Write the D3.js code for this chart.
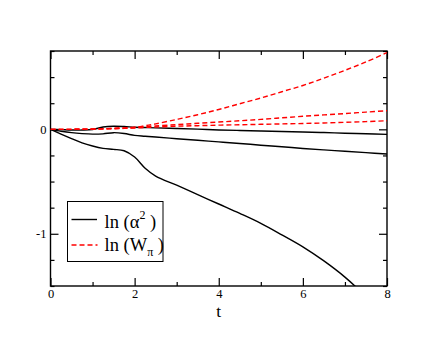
<!DOCTYPE html>
<html><head><meta charset="utf-8">
<script src="https://cdn.jsdelivr.net/npm/d3@7/dist/d3.min.js"></script>
<style>body{margin:0;background:#fff}</style>
</head><body>
<svg id="c" width="436" height="337"></svg>
<script>
// ---- data ----
const tValues = [0,0.25,0.5,0.75,1,1.25,1.5,1.75,2,2.25,2.5,3,3.5,4,4.5,5,5.5,6,6.5,7,7.5,8];
const lnAlpha1 = [0,-0.003,-0.006,-0.007,-0.002,0.022,0.030,0.027,0.020,0.017,0.014,0.008,0.002,-0.006,-0.011,-0.016,-0.021,-0.026,-0.031,-0.037,-0.042,-0.048];
const lnAlpha2 = [0,-0.018,-0.032,-0.041,-0.046,-0.043,-0.032,-0.040,-0.058,-0.066,-0.074,-0.090,-0.105,-0.120,-0.135,-0.152,-0.167,-0.183,-0.197,-0.210,-0.223,-0.236];
const lnAlpha3 = [0,-0.045,-0.088,-0.130,-0.160,-0.182,-0.192,-0.205,-0.265,-0.372,-0.447,-0.535,-0.625,-0.715,-0.805,-0.900,-1.010,-1.125,-1.260,-1.415,-1.600,-1.800];
const lnW1 = [0,0,0,0.001,0.003,0.006,0.010,0.014,0.020,0.035,0.052,0.095,0.140,0.190,0.245,0.300,0.360,0.420,0.490,0.565,0.645,0.735];
const lnW2 = [0,0,0,0.001,0.002,0.005,0.008,0.012,0.018,0.025,0.032,0.045,0.058,0.070,0.082,0.095,0.110,0.125,0.138,0.151,0.165,0.178];
const lnW3 = [0,0,0,0.001,0.002,0.004,0.006,0.009,0.013,0.018,0.022,0.030,0.035,0.040,0.044,0.048,0.052,0.056,0.061,0.067,0.074,0.082];
const xMajorTicks = [0,2,4,6,8];
const xMinorTicks = [1,3,5,7];
const yMajorTicks = [-1,0];
const yMinorTicks = [-1.5,-1.25,-0.75,-0.5,-0.25,0.25,0.5,0.75];
const xTitle = "t";

// ---- layout ----
const L = 50.5, R = 387, T = 51, B = 286;
const svg = d3.select("#c");
const font = "'Liberation Serif','DejaVu Serif',serif";
const x = d3.scaleLinear().domain([0,8]).range([L,R]);
const y = d3.scaleLinear().domain([-1.5,0.75]).range([B,T]);

svg.append("defs").append("clipPath").attr("id","clip")
  .append("rect").attr("x",L).attr("y",T).attr("width",R-L).attr("height",B-T);

function styleAxis(g, showText){
  g.attr("font-family",font).attr("font-size",12.5);
  g.select(".domain").remove();
  g.selectAll(".tick line").attr("stroke","#000").attr("stroke-width",1.2);
  g.selectAll(".tick text").attr("fill","#000");
  if(!showText) g.selectAll(".tick text").remove();
}
const fmt = d => String(d);
// bottom
svg.append("g").attr("transform",`translate(0,${B})`)
  .call(d3.axisBottom(x).tickValues(xMajorTicks).tickSize(-8).tickPadding(3.5).tickFormat(fmt))
  .call(g=>styleAxis(g,true));
svg.append("g").attr("transform",`translate(0,${B})`)
  .call(d3.axisBottom(x).tickValues(xMinorTicks).tickSize(-4)).call(g=>styleAxis(g,false));
// top
svg.append("g").attr("transform",`translate(0,${T})`)
  .call(d3.axisTop(x).tickValues(xMajorTicks).tickSize(-8)).call(g=>styleAxis(g,false));
svg.append("g").attr("transform",`translate(0,${T})`)
  .call(d3.axisTop(x).tickValues(xMinorTicks).tickSize(-4)).call(g=>styleAxis(g,false));
// left
svg.append("g").attr("transform",`translate(${L},0)`)
  .call(d3.axisLeft(y).tickValues(yMajorTicks).tickSize(-8).tickPadding(4).tickFormat(fmt))
  .call(g=>styleAxis(g,true));
svg.append("g").attr("transform",`translate(${L},0)`)
  .call(d3.axisLeft(y).tickValues(yMinorTicks).tickSize(-4)).call(g=>styleAxis(g,false));
// right
svg.append("g").attr("transform",`translate(${R},0)`)
  .call(d3.axisRight(y).tickValues(yMajorTicks).tickSize(-8)).call(g=>styleAxis(g,false));
svg.append("g").attr("transform",`translate(${R},0)`)
  .call(d3.axisRight(y).tickValues(yMinorTicks).tickSize(-4)).call(g=>styleAxis(g,false));

// frame
svg.append("rect").attr("x",L).attr("y",T).attr("width",R-L).attr("height",B-T)
  .attr("fill","none").attr("stroke","#000").attr("stroke-width",1.4);

// curves
const line = d3.line().x((d,i)=>x(tValues[i])).y(d=>y(d)).curve(d3.curveCatmullRom.alpha(0.5));
const cg = svg.append("g").attr("clip-path","url(#clip)");
[lnAlpha1,lnAlpha2,lnAlpha3].forEach(s=>{
  cg.append("path").attr("d",line(s)).attr("fill","none").attr("stroke","#000").attr("stroke-width",1.4);
});
[lnW1,lnW2,lnW3].forEach(s=>{
  cg.append("path").attr("d",line(s)).attr("fill","none").attr("stroke","#ff0000").attr("stroke-width",1.4)
    .attr("stroke-dasharray","5,3");
});

// x title
svg.append("text").attr("x",(L+R)/2).attr("y",317).attr("text-anchor","middle")
  .attr("font-family",font).attr("font-size",17.5).text(xTitle);

// legend
const lg = svg.append("g");
lg.append("rect").attr("x",67.5).attr("y",201.5).attr("width",95.5).attr("height",60)
  .attr("fill","#fff").attr("stroke","#000").attr("stroke-width",1);
lg.append("line").attr("x1",71.5).attr("x2",97).attr("y1",219.5).attr("y2",219.5)
  .attr("stroke","#000").attr("stroke-width",1.4);
lg.append("line").attr("x1",71.5).attr("x2",97.5).attr("y1",245).attr("y2",245)
  .attr("stroke","#ff0000").attr("stroke-width",1.4).attr("stroke-dasharray","5,3");
const t1 = lg.append("text").attr("x",104.5).attr("y",227.5).attr("font-family",font).attr("font-size",18.5);
t1.append("tspan").text("ln (\u03B1");
t1.append("tspan").attr("dy",-9).attr("font-size",12).text("2");
t1.append("tspan").attr("dy",9).text(" )");
const t2 = lg.append("text").attr("x",104.5).attr("y",251).attr("font-family",font).attr("font-size",18.5);
t2.append("tspan").text("ln (W");
t2.append("tspan").attr("dy",5).attr("font-size",12).text("\u03C0");
t2.append("tspan").attr("dy",-5).text(" )");
</script>
</body></html>
